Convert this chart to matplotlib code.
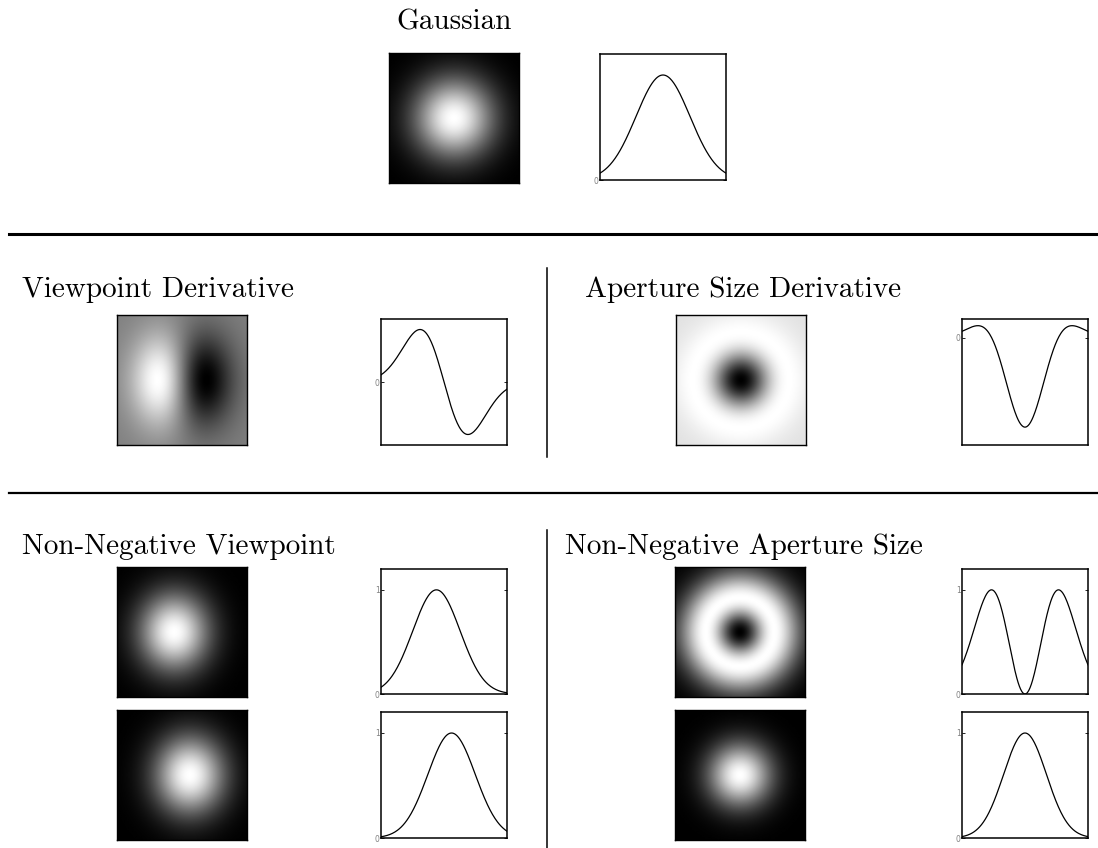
import numpy as np
import matplotlib
matplotlib.use("Agg")
import matplotlib.pyplot as plt
from matplotlib.lines import Line2D

W, H = 1098, 848

# Panel titles
titles = ["Gaussian", "Viewpoint Derivative", "Aperture Size Derivative",
          "Non-Negative Viewpoint", "Non-Negative Aperture Size"]

# Kernel parameters (in units of the kernel window width)
gauss_sigma = 0.214
vp_sigma_x, vp_sigma_y = 0.19, 0.25
ap_sigma = 0.187
nnvp_shifts = [-0.06, 0.06]
nnvp_sigma_x, nnvp_sigma_y = 0.188, 0.21
nnap_ring_sigma = 0.188
nnap_blob_sigma = 0.17

# y-limits of the profile plots
ylim_gauss = (0.0, 1.2)
ylim_vp = (-1.2, 1.2)
ylim_ap = (-2.4, 0.42)
ylim_nn = (0.0, 1.2)

n = 201
xs = np.linspace(-0.5, 0.5, n)
X, Y = np.meshgrid(xs, xs)
R2 = X ** 2 + Y ** 2


def gauss(u, s):
    return np.exp(-u ** 2 / (2 * s ** 2))


def px_axes(x0, y0, x1, y1):
    return fig.add_axes([x0 / W, 1 - y1 / H, (x1 - x0) / W, (y1 - y0) / H])


def image_panel(rect, img, vmin=None, vmax=None):
    ax = px_axes(*rect)
    ax.imshow(img, cmap="gray", vmin=vmin, vmax=vmax, extent=(-0.5, 0.5, -0.5, 0.5),
              aspect="auto", interpolation="bilinear")
    ax.set_xticks([])
    ax.set_yticks([])
    for sp in ax.spines.values():
        sp.set_linewidth(1.0)
        sp.set_color("black")
    return ax


def profile_panel(rect, y, ylim, yticks):
    ax = px_axes(*rect)
    ax.plot(xs, y, color="black", lw=0.9)
    ax.set_xlim(-0.5, 0.5)
    ax.set_ylim(*ylim)
    ax.set_xticks([])
    ax.set_yticks(yticks)
    ax.set_yticklabels([f"{t:g}" for t in yticks])
    ax.tick_params(axis="y", direction="in", length=2, width=0.6, right=True,
                   labelsize=5.5, labelcolor="#808080", pad=1)
    for sp in ax.spines.values():
        sp.set_linewidth(1.1)
    return ax


fig = plt.figure(figsize=(W / 100, H / 100), dpi=100)
fig.patch.set_facecolor("white")
tfont = dict(family="cmr10", size=21, color="black")

# --- Gaussian ---
fig.text(454 / W, 1 - 22 / H, titles[0], ha="center", va="center", **tfont)
g2 = gauss(X, gauss_sigma) * gauss(Y, gauss_sigma)
image_panel((389, 53, 519, 183), g2)
profile_panel((600, 54, 726, 180), gauss(xs, gauss_sigma), ylim_gauss, [0])

# --- Viewpoint derivative ---
fig.text(22 / W, 1 - 290 / H, titles[1], ha="left", va="center", **tfont)
vp = -(X / vp_sigma_x) * gauss(X, vp_sigma_x) * gauss(Y, vp_sigma_y)
m = np.abs(vp).max()
image_panel((117, 315, 247, 445), vp, -m, m)
vp1 = -(xs / vp_sigma_x) * gauss(xs, vp_sigma_x)
vp1 = vp1 / vp1.max()
profile_panel((381, 319, 507, 445), vp1, ylim_vp, [0])

# --- Aperture size derivative ---
fig.text(585 / W, 1 - 290 / H, titles[2], ha="left", va="center", **tfont)
ap = (R2 / ap_sigma ** 2 - 2) * np.exp(-R2 / (2 * ap_sigma ** 2))
image_panel((676, 315, 806, 445), ap)
ap1 = (xs ** 2 / ap_sigma ** 2 - 2) * gauss(xs, ap_sigma)
profile_panel((962, 319, 1088, 445), ap1, ylim_ap, [0])

# --- Non-negative viewpoint ---
fig.text(22 / W, 1 - 547 / H, titles[3], ha="left", va="center", **tfont)
rows = [(567, 697, 569, 694), (710, 840, 712, 838)]
for (iy0, iy1, py0, py1), sh in zip(rows, nnvp_shifts):
    img = gauss(X - sh, nnvp_sigma_x) * gauss(Y, nnvp_sigma_y)
    image_panel((117, iy0, 247, iy1), img)
    profile_panel((381, py0, 507, py1), gauss(xs - sh, nnvp_sigma_x), ylim_nn, [0, 1])

# --- Non-negative aperture size ---
fig.text(565 / W, 1 - 547 / H, titles[4], ha="left", va="center", **tfont)
u = R2 / (2 * nnap_ring_sigma ** 2)
ring = u * np.exp(1 - u)
image_panel((675, 567, 805, 697), ring)
u1 = xs ** 2 / (2 * nnap_ring_sigma ** 2)
profile_panel((962, 569, 1088, 694), u1 * np.exp(1 - u1), ylim_nn, [0, 1])
blob = np.exp(-R2 / (2 * nnap_blob_sigma ** 2))
image_panel((675, 710, 805, 840), blob)
profile_panel((962, 712, 1088, 838), gauss(xs, nnap_blob_sigma), ylim_nn, [0, 1])

# --- Separators ---
def fig_line(x0, y0, x1, y1, lw):
    fig.add_artist(Line2D([x0 / W, x1 / W], [1 - y0 / H, 1 - y1 / H],
                          transform=fig.transFigure, color="black", lw=lw))

fig_line(9, 234, 1098, 234, 2.2)
fig_line(9, 493, 1098, 493, 1.6)
fig_line(547, 268, 547, 457, 1.1)
fig_line(547, 530, 547, 848, 1.1)

fig.savefig("out.png", dpi=100, facecolor="white")
